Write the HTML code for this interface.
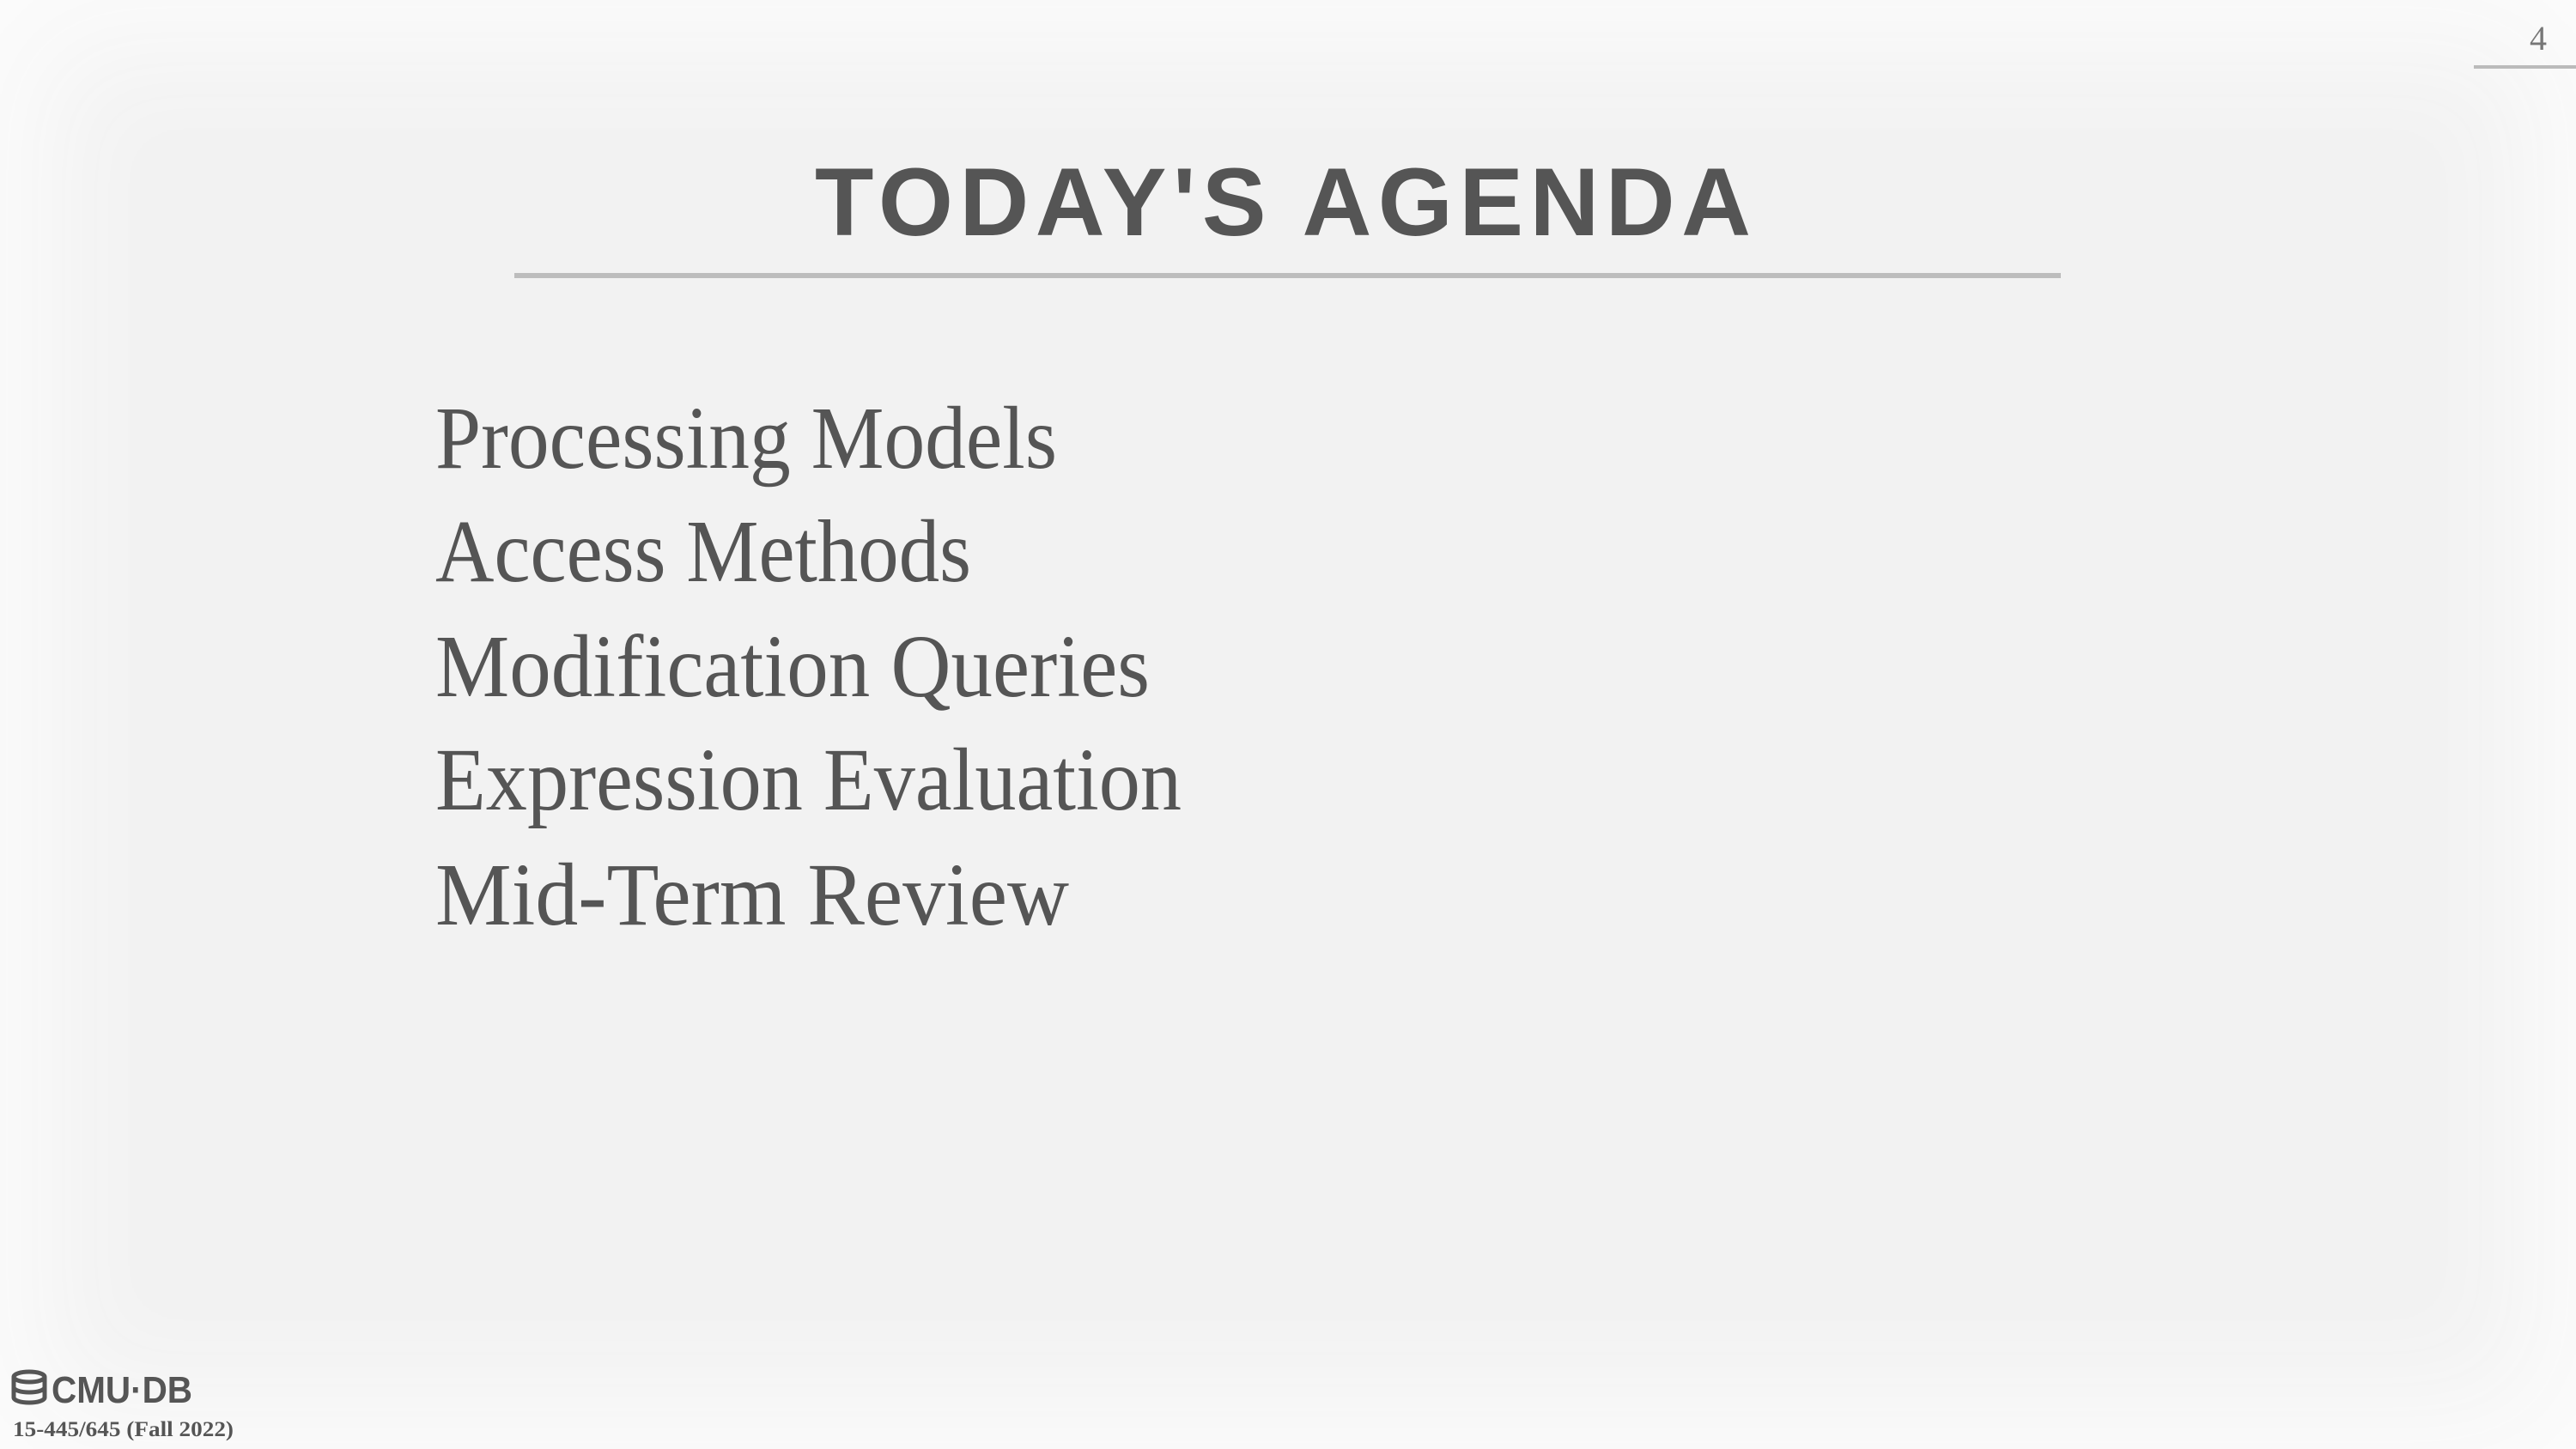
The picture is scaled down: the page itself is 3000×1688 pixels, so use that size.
<!DOCTYPE html>
<html><head><meta charset="utf-8"><style>
html,body{margin:0;padding:0;}
body{width:3000px;height:1688px;overflow:hidden;background:#f2f2f2;}
.vig{position:absolute;left:0;top:0;width:3000px;height:1688px;box-shadow:inset 0 0 140px 60px #fbfbfb;}
svg{position:absolute;left:0;top:0;}
</style></head><body>
<div class="vig"></div>
<svg width="3000" height="1688" viewBox="0 0 3000 1688">
  <text x="2956" y="58" font-family="Liberation Serif, serif" font-size="40" fill="#777" text-anchor="middle">4</text>
  <rect x="2881" y="76" width="119" height="4" fill="#bbb"/>
  <text x="949" y="274" font-family="Liberation Sans, sans-serif" font-weight="bold" font-size="112" fill="#555" textLength="1090" lengthAdjust="spacing">TODAY'S AGENDA</text>
  <rect x="599" y="318" width="1801" height="6" fill="#bdbdbd"/>
  <g font-family="Liberation Serif, serif" font-size="104" fill="#555">
    <text x="507" y="545" textLength="724" lengthAdjust="spacingAndGlyphs">Processing Models</text>
    <text x="507" y="677" textLength="624" lengthAdjust="spacingAndGlyphs">Access Methods</text>
    <text x="507" y="811" textLength="832" lengthAdjust="spacingAndGlyphs">Modification Queries</text>
    <text x="507" y="943" textLength="869" lengthAdjust="spacingAndGlyphs">Expression Evaluation</text>
    <text x="507" y="1077" textLength="738" lengthAdjust="spacingAndGlyphs">Mid-Term Review</text>
  </g>
  <g>
    <ellipse cx="34" cy="1604" rx="18" ry="6" fill="none" stroke="#555" stroke-width="5"/>
    <path d="M16 1604 v24 a18 6 0 0 0 36 0 v-24 M16 1616 a18 6 0 0 0 36 0" fill="none" stroke="#555" stroke-width="5"/>
    <text x="60" y="1634" font-family="Liberation Sans, sans-serif" font-weight="bold" font-size="44" fill="#555" textLength="164" lengthAdjust="spacingAndGlyphs">CMU·DB</text>
  </g>
  <text x="15" y="1673" font-family="Liberation Serif, serif" font-weight="bold" font-size="25" fill="#555" textLength="257" lengthAdjust="spacingAndGlyphs">15-445/645 (Fall 2022)</text>
</svg>
</body></html>
